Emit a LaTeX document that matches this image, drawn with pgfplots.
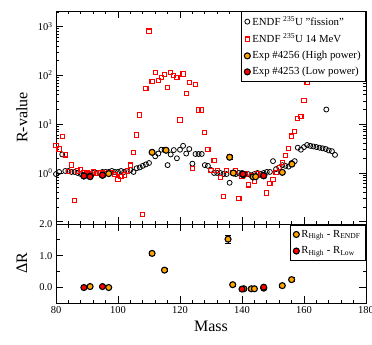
\documentclass[border=0pt]{standalone}
\usepackage{fontspec}
\setmainfont{Liberation Serif}
\usepackage{pgfplots}
\pgfplotsset{compat=1.18}
\usetikzlibrary{calc}
\definecolor{myorange}{RGB}{255,165,0}
\definecolor{myred}{RGB}{255,0,0}
\begin{document}
\begin{tikzpicture}
\pgfplotsset{
 common/.style={scale only axis, width=310pt, xmin=80, xmax=180,
   tick align=inside, major tick length=7pt, minor tick length=3.5pt,
   axis line style={line width=0.9pt},
   every tick/.style={black, line width=0.8pt},
   tick label style={font=\fontsize{10.5}{12}\selectfont},
   /pgf/number format/assume math mode=true,
   xtick={80,100,...,180}, minor x tick num=4,
   label style={font=\fontsize{16}{18}\selectfont},
   legend cell align=left},
 endf/.style={only marks, mark=o, color=black, mark size=2.5pt, line width=0.8pt, mark options={draw=black}},
 mev/.style={only marks, mark=square, color=myred, mark size=2.1pt, line width=1.05pt, mark options={draw=myred, fill=none}},
 hi/.style={only marks, mark=*, black, mark options={fill=myorange, draw=black, line width=1.1pt}, mark size=3pt},
 lo/.style={only marks, mark=*, black, mark options={fill=myred, draw=black, line width=1.1pt}, mark size=3pt},
 eb/.style={error bars/.cd, y dir=both, y explicit,
   error bar style={black, line width=0.8pt},
   error mark options={rotate=90, black, mark size=3pt, line width=0.8pt}},
}
\begin{axis}[common, name=top, ymode=log, height=213pt, ymin=0.09, ymax=2090,
  xticklabels={},
  ytick={0.1,1,10,100,1000},
  yticklabels={,10\textsuperscript{0},10\textsuperscript{1},10\textsuperscript{2},10\textsuperscript{3}},
  minor ytick={0.2,0.3,0.4,0.5,0.6,0.7,0.8,0.9,2,3,4,5,6,7,8,9,20,30,40,50,60,70,80,90,200,300,400,500,600,700,800,900,2000},
  ylabel={R-value},
  ylabel style={at={(axis description cs:-0.11,0.5)}, anchor=center},
  legend style={at={(1,1)}, anchor=north east, draw=black, fill=white, line width=0.8pt,
    font=\fontsize{10.8}{12.5}\selectfont, row sep=3pt, inner sep=3pt},
]
\coordinate (TL) at (rel axis cs:0,1);
\addplot[endf] coordinates {
(80,0.95)(81,1.05)(82,2.4)(83,1.1)(84,1.1)(85,1.05)(86,1.05)(87,1.0)(88,0.95)(89,0.92)
(90,0.95)(91,0.95)(92,1.0)(93,1.0)(94,1.0)(95,1.05)(96,1.05)(97,1.05)(98,1.1)(99,1.05)
(100,1.05)(101,1.1)(102,1.05)(103,1.1)(104,1.15)(105,1.05)(106,1.25)(107,1.3)(108,1.4)(109,1.5)
(110,1.6)(111,2.7)(112,2.2)(113,2.5)(114,3.0)(115,3.0)(116,1.45)(117,2.4)(118,2.95)(119,2.0)
(120,3.0)(121,3.6)(122,2.5)(123,3.1)(124,1.55)(125,2.45)(126,2.45)(127,2.45)(128,1.45)(129,1.4)
(130,1.15)(131,1.0)(132,1.0)(133,1.0)(134,0.95)(135,0.95)(136,0.63)(137,1.0)(138,0.95)(139,1.0)
(140,1.0)(141,0.95)(142,0.95)(143,0.9)(144,0.95)(145,1.0)(146,0.95)(147,1.0)(148,1.05)(149,1.05)
(150,1.75)(151,1.2)(152,1.3)(153,1.45)(154,1.4)(155,1.35)(156,1.6)(157,1.75)(158,3.3)(159,3.0)
(160,3.4)(161,3.75)(162,3.6)(163,3.5)(164,3.4)(165,3.3)(166,3.2)(167,3.1)(168,2.9)(169,2.8)
(170,2.35)(167.2,20)
};
\addlegendentry{ENDF \textsuperscript{235}U "fission"}
\addplot[mev] coordinates {
(80,3.6)(81,3.1)(82,5.5)(83,2.35)(84,1.06)(85,1.46)(86,0.27)(87,1.1)(88,1.19)(89,1.0)
(90,1.02)(91,0.97)(92,1.05)(93,0.98)(94,1.0)(95,1.0)(96,0.97)(97,1.0)(98,1.02)(99,0.92)
(100,0.73)(101,0.84)(102,0.91)(103,1.1)(104,1.45)(105,2.6)(106,6.0)(107,15.4)(108,0.14)(109,54)
(110,810)(111,74)(112,113)(113,78)(114,92)(115,106)(116,57)(117,113)(118,101)(119,92)
(120,12.2)(121,107)(122,43)(123,72)(124,1.25)(125,66)(126,19.5)(127,19.5)(128,6.7)(129,3.06)
(130,1.12)(131,1.8)(132,1.12)(133,0.82)(134,0.33)(135,1.12)(136,2.16)(137,1.03)(138,1.1)(139,0.30)
(140,0.84)(141,0.95)(142,0.57)(143,0.9)(144,0.66)(145,0.95)(146,0.9)(147,0.9)(148,0.39)(149,0.61)
(150,0.74)(151,1.02)(152,1.3)(153,1.63)(154,2.3)(155,3.2)(156,5.7)(157,7.0)(158,13.2)(159,14.3)
(160,31)(161,73)(162,200)
};
\addlegendentry{ENDF \textsuperscript{235}U 14 MeV}
\addplot[hi, eb] table[x=m, y=r, y error=e] {
m r e
89 0.87 0.03
91 0.86 0.03
95 0.90 0.03
97 0.97 0.03
111 2.65 0.08
115.5 2.92 0.08
136 2.1 0.2
137.2 1.0 0.04
140.4 0.92 0.03
143.6 0.83 0.03
144.4 0.84 0.03
147 0.88 0.03
153 1.03 0.03
156.1 1.52 0.05
};
\addlegendentry{Exp \#4256 (High power)}
\addplot[lo] coordinates {(89,0.87)(91,0.84)(95,0.90)(140.3,0.95)(147,0.88)};
\addlegendentry{Exp \#4253 (Low power)}
\end{axis}
\begin{axis}[common, name=bot, at={(top.south west)}, anchor=north west,
  height=79pt, ymin=-0.5, ymax=2.0, ytick={0,1,2}, minor y tick num=1,
  yticklabel style={/pgf/number format/.cd, fixed, fixed zerofill, precision=1},
  xlabel={Mass}, ylabel={ΔR},
  xlabel style={at={(axis description cs:0.5,-0.30)}, anchor=center},
  ylabel style={at={(axis description cs:-0.11,0.5)}, anchor=center},
  legend style={at={(1,0.99)}, anchor=north east, draw=black, fill=white, line width=0.8pt,
    font=\fontsize{10.8}{12.5}\selectfont, row sep=4pt, inner sep=3pt},
]
\coordinate (BR) at (rel axis cs:1,0);
\addplot[hi, eb] table[x=m, y=d, y error=e] {
m d e
91 0.02 0.04
97 -0.01 0.04
111 1.07 0.05
115 0.54 0.05
135.5 1.52 0.12
137 0.08 0.05
140.6 -0.05 0.04
143 -0.05 0.04
144 -0.05 0.04
147 -0.03 0.04
153 0.05 0.05
156 0.24 0.07
};
\addlegendentry{R\textsubscript{High} - R\textsubscript{ENDF}}
\addplot[lo, eb] table[x=m, y=d, y error=e] {
m d e
89 -0.01 0.03
95 0.02 0.03
140 -0.06 0.03
147 0.0 0.03
};
\addlegendentry{R\textsubscript{High} - R\textsubscript{Low}}
\end{axis}
\pgfresetboundingbox
\path[use as bounding box] ($(TL)+(-56pt,11pt)$) rectangle ($(BR)+(6pt,-42pt)$);
\end{tikzpicture}
\end{document}
